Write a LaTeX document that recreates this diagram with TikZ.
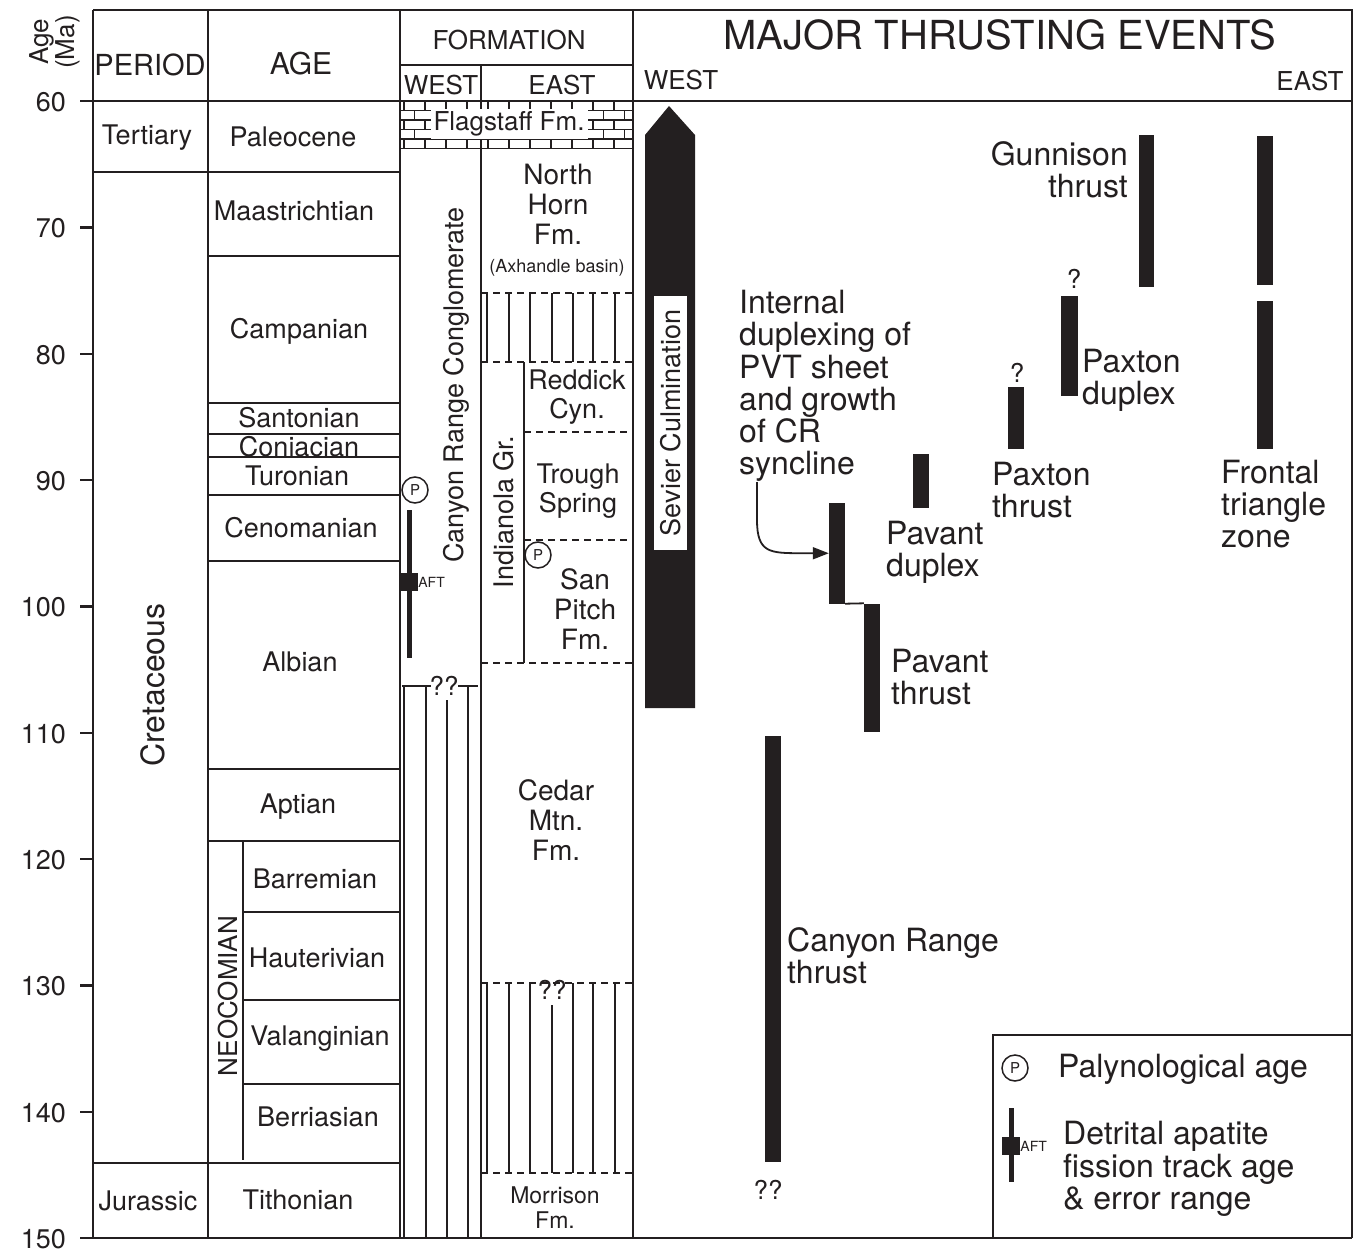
\documentclass[tikz,border=0pt]{standalone}
\usepackage{fontspec}
\setmainfont{TeX Gyre Heros}
\usetikzlibrary{arrows.meta}
\begin{document}
\begin{tikzpicture}[x = 1pt, y = -1pt,
  framerule/.style = {draw = ink, line width = 2.4pt},
  hairrule/.style = {draw = ink, line width = 1.8pt},
  dashrule/.style = {draw = ink, line width = 1.8pt, dash pattern = on 7pt off 5pt},
  thrustbar/.style = {fill = ink, inner sep = 0pt, minimum width = 16pt},
  headtxt/.style = {font = \fontsize{26}{26}\selectfont, text = ink, inner sep = 0pt},
  stagetxt/.style = {font = \fontsize{27}{29}\selectfont, text = ink, inner sep = 0pt, align = center},
  eventtxt/.style = {font = \fontsize{32}{32.3}\selectfont, text = ink, inner sep = 0pt, align = left},
  paltag/.style = {circle, draw = ink, line width = 1.5pt, minimum size = 26pt, inner sep = 0pt, font = \fontsize{15}{15}\selectfont, text = ink, fill = white},
  afttxt/.style = {font = \fontsize{14}{14}\selectfont, text = ink, inner sep = 0pt}]
\definecolor{ink}{HTML}{231F20}
\pgfmathsetmacro\ytop{101}
\pgfmathsetmacro\mascale{12.637}
\useasboundingbox (0,0) rectangle (1354,1252);
\draw [framerule] (93,10) -- (1352,10) -- (1352,1238);
\draw [framerule] (93,10) -- (93,1238);
\draw [framerule] (80,1238) -- (1352,1238);
\draw [framerule] (80,101) -- (1352,101);
\foreach \xc in {208,400,633} \draw [framerule] (\xc,10) -- (\xc,1238);
\draw [framerule] (400,65) -- (633,65);
\draw [framerule] (481,65) -- (481,1238);
\foreach \a in {70,80,...,140} \draw [framerule] (80,{\ytop+(\a-60)*\mascale}) -- (93,{\ytop+(\a-60)*\mascale});
\foreach \a in {60,70,...,150} \node [headtxt, anchor = east, font = \fontsize{27}{27}\selectfont] (tick\a) at (66,{\ytop+1+(\a-60)*\mascale}) {\a};
\node [rotate = 90, align = center, font = \fontsize{26}{23}\selectfont, text = ink, inner sep = 0pt] (agema) at (55,42) {Age\\(Ma)};
\node [headtxt, font = \fontsize{29}{29}\selectfont] (periodhead) at (150,65) {PERIOD};
\node [headtxt, font = \fontsize{30}{30}\selectfont] (agehead) at (301,64) {AGE};
\node [headtxt] (formhead) at (509,40) {FORMATION};
\node [headtxt] (formwest) at (441,85) {WEST};
\node [headtxt] (formeast) at (562,85) {EAST};
\node [headtxt, font = \fontsize{40}{40}\selectfont] (thrusthead) at (1000,35) {MAJOR THRUSTING EVENTS};
\node [headtxt] (thrustwest) at (681,80) {WEST};
\node [headtxt] (thrusteast) at (1310,81) {EAST};
\foreach \yc in {172,1163} \draw [hairrule] (93,\yc) -- (400,\yc);
\foreach \yc in {256,403,434,457,495,561,769,841} \draw [hairrule] (208,\yc) -- (400,\yc);
\foreach \yc in {912,1000,1084} \draw [hairrule] (243,\yc) -- (400,\yc);
\draw [hairrule] (243,841) -- (243,1160);
\node [stagetxt] (tertiary) at (147,138) {Tertiary};
\node [stagetxt, rotate = 90, font = \fontsize{32}{32}\selectfont] (cretaceous) at (153,685) {Cretaceous};
\node [stagetxt] (jurassic) at (148,1201) {Jurassic};
\node [stagetxt] (paleocene) at (293,137) {Paleocene};
\node [stagetxt] (maastrichtian) at (294,211) {Maastrichtian};
\node [stagetxt] (campanian) at (299,331) {Campanian};
\node [stagetxt] (santonian) at (299,418) {Santonian};
\node [stagetxt] (coniacian) at (299,447) {Coniacian};
\node [stagetxt] (turonian) at (297,476) {Turonian};
\node [stagetxt] (cenomanian) at (301,528) {Cenomanian};
\node [stagetxt] (albian) at (300,662) {Albian};
\node [stagetxt] (aptian) at (298,807) {Aptian};
\node [stagetxt] (barremian) at (315,879) {Barremian};
\node [stagetxt] (hauterivian) at (317,958) {Hauterivian};
\node [stagetxt] (valanginian) at (320,1039) {Valanginian};
\node [stagetxt] (berriasian) at (318,1117) {Berriasian};
\node [stagetxt] (tithonian) at (298,1200) {Tithonian};
\node [stagetxt, rotate = 90, font = \fontsize{26}{26}\selectfont] (neocomian) at (228,996) {NEOCOMIAN};
\draw [hairrule] (400,148.5) -- (633,148.5);
\foreach \yc in {110.5,120,129.5,139} \draw [hairrule, line width = 1.5pt] (400,\yc) -- (633,\yc);
\foreach \row in {0,...,4} \foreach \col in {0,...,10} \draw [hairrule, line width = 1.5pt] ({404+21*\col+10.5*mod(\row,2)},{101+9.5*\row}) -- ++(0,9.5);
\node [headtxt, fill = white, inner sep = 3pt] (flagstaff) at (509,124) {Flagstaff Fm.};
\foreach \xc in {404,426,468} \draw [hairrule] (\xc,686) -- (\xc,1238);
\draw [hairrule] (447,700) -- (447,1238);
\draw [hairrule] (402,686) -- (431,686);
\draw [hairrule] (458,686) -- (478,686);
\node [headtxt] (westqq) at (444,686) {??};
\node [stagetxt, rotate = 90] (crconglom) at (456,385) {Canyon Range Conglomerate};
\node [paltag] (palwest) at (415,490) {P};
\draw [draw = ink, line width = 5pt] (409,510) -- (409,658);
\node [fill = ink, minimum size = 18pt, inner sep = 0pt] (aftwest) at (409,582) {};
\node [afttxt, anchor = west] (aftwesttxt) at (aftwest.east) {AFT};
\foreach \yc in {293,362} \draw [dashrule] (481,\yc) -- (633,\yc);
\foreach \xc in {487,509,530,552,573,593,615} \draw [hairrule] (\xc,293) -- (\xc,362);
\foreach \yc in {432,540} \draw [dashrule] (524,\yc) -- (633,\yc);
\draw [dashrule] (481,663) -- (633,663);
\draw [hairrule] (524,362) -- (524,663);
\foreach \yc in {983,1173} \draw [dashrule] (481,\yc) -- (633,\yc);
\foreach \xc in {487,509,530,573,593,615} \draw [hairrule] (\xc,983) -- (\xc,1173);
\draw [hairrule] (552,1005) -- (552,1173);
\node [headtxt] (eastqq) at (552,990) {??};
\node [stagetxt, font = \fontsize{28}{30}\selectfont] (northhorn) at (558,204) {North\\Horn\\Fm.};
\node [stagetxt, font = \fontsize{18}{18}\selectfont] (axhandle) at (557,268) {(Axhandle basin)};
\node [stagetxt, rotate = 90] (indianola) at (504,512) {Indianola Gr.};
\node [stagetxt] (reddick) at (577,397) {Reddick\\Cyn.};
\node [stagetxt] (trough) at (578,491) {Trough\\Spring};
\node [paltag] (paleast) at (538,555) {P};
\node [stagetxt, font = \fontsize{28}{30}\selectfont] (sanpitch) at (585,609) {San\\Pitch\\Fm.};
\node [stagetxt, font = \fontsize{28}{30}\selectfont] (cedar) at (556,820) {Cedar\\Mtn.\\Fm.};
\node [stagetxt, font = \fontsize{23}{25}\selectfont] (morrison) at (555,1208) {Morrison\\Fm.};
\fill [ink] (645,708) -- (645,135) -- (669,106) -- (695,135) -- (695,708) -- cycle;
\node [headtxt, rotate = 90, fill = white, minimum width = 254pt, minimum height = 33pt, font = \fontsize{27}{27}\selectfont] (sevier) at (670.5,423) {Sevier Culmination};
\node [thrustbar, minimum width = 15pt, minimum height = 152pt] (gunbar) at (1146.5,211) {};
\node [thrustbar, minimum height = 149pt] (frontbarA) at (1265,210.5) {};
\node [thrustbar, minimum height = 148pt] (frontbarB) at (1265,375) {};
\node [thrustbar, minimum width = 17pt, minimum height = 100pt] (paxdupbar) at (1069.5,346) {};
\node [thrustbar, minimum height = 62pt] (paxthrbar) at (1016,418) {};
\node [thrustbar, minimum height = 54pt] (pavdupbar) at (921,481) {};
\node [thrustbar, minimum height = 100.5pt] (intbar) at (837,553.25) {};
\node [thrustbar, minimum height = 128.5pt] (pavthrbar) at (872,667.75) {};
\node [thrustbar, minimum height = 426pt] (crtbar) at (773,949) {};
\draw [hairrule] (intbar.south east) -- (pavthrbar.north west);
\node [headtxt] (paxdupq) at (1074,279) {?};
\node [headtxt] (paxthrq) at (1017,373) {?};
\node [headtxt] (crtqq) at (768,1190) {??};
\node [eventtxt, align = right, anchor = east] (gunnison) at (1128,170) {Gunnison\\thrust};
\node [eventtxt, anchor = west] (frontal) at (1221,504) {Frontal\\triangle\\zone};
\node [eventtxt, anchor = west] (paxdup) at (1082,380) {Paxton\\duplex};
\node [eventtxt, anchor = west] (paxthr) at (992,490) {Paxton\\thrust};
\node [eventtxt, anchor = west] (pavdup) at (886,552) {Pavant\\duplex};
\node [eventtxt, anchor = west] (pavthr) at (891,677) {Pavant\\thrust};
\node [eventtxt, anchor = west] (crthrust) at (787,956) {Canyon Range\\thrust};
\node [eventtxt, anchor = west] (intdup) at (739,386) {Internal\\duplexing of\\PVT sheet\\and growth\\of CR\\syncline};
\coordinate (arrstart) at (757,482);
\draw [hairrule, -{Triangle[length = 16pt, width = 12pt]}] (arrstart) -- (757,520) .. controls (757,553) and (770,553) .. (800,553.25) -- (intbar.west);
\draw [framerule] (993,1238) -- (993,1035) -- (1352,1035);
\node [paltag] (legpal) at (1015,1068) {P};
\node [eventtxt, anchor = west] (legpaltxt) at (1058,1069) {Palynological age};
\draw [draw = ink, line width = 5pt] (1011,1108) -- (1011,1182);
\node [fill = ink, minimum size = 18pt, inner sep = 0pt] (legaft) at (1011,1146) {};
\node [afttxt, anchor = west] (legafttxt) at (legaft.east) {AFT};
\node [eventtxt, anchor = west] (legafttext) at (1063,1169) {Detrital apatite\\fission track age\\\& error range};
\end{tikzpicture}
\end{document}
